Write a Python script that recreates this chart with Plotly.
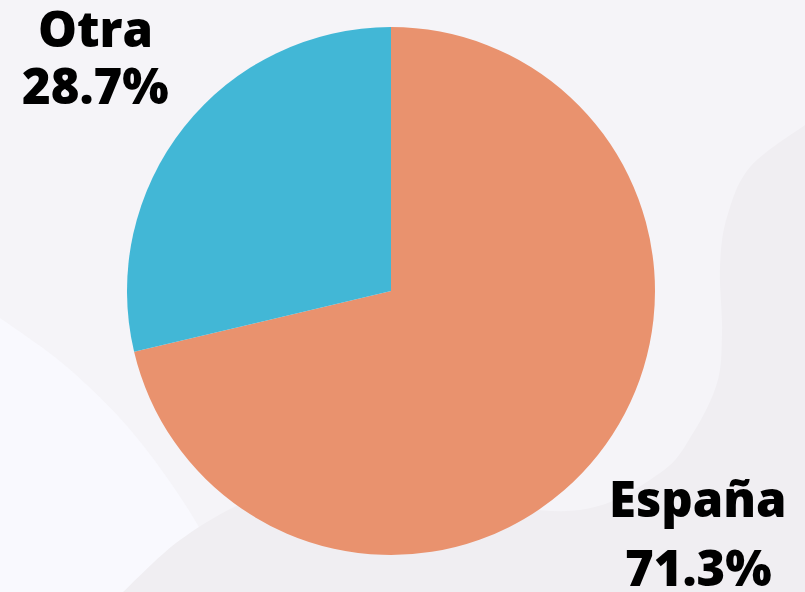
import plotly.graph_objects as go

# Data
categories = ["España", "Otra"]
values = [71.3, 28.7]
colors = ["#e9926e", "#42b7d6"]

W, H = 805, 592


def px(x, y):
    return x / W, 1 - y / H


def path(points, close=True):
    s = ""
    for i, (x, y) in enumerate(points):
        X, Y = px(x, y)
        s += ("M" if i == 0 else "L") + f"{X:.4f},{Y:.4f} "
    return s + ("Z" if close else "")


def smooth(pts, n=12):
    # Catmull-Rom interpolation for smooth decoration outlines
    out = []
    P = [pts[0]] + pts + [pts[-1]]
    for i in range(1, len(P) - 2):
        p0, p1, p2, p3 = P[i - 1], P[i], P[i + 1], P[i + 2]
        for k in range(n):
            t = k / n
            t2, t3 = t * t, t * t * t
            x = 0.5 * ((2 * p1[0]) + (-p0[0] + p2[0]) * t + (2 * p0[0] - 5 * p1[0] + 4 * p2[0] - p3[0]) * t2 + (-p0[0] + 3 * p1[0] - 3 * p2[0] + p3[0]) * t3)
            y = 0.5 * ((2 * p1[1]) + (-p0[1] + p2[1]) * t + (2 * p0[1] - 5 * p1[1] + 4 * p2[1] - p3[1]) * t2 + (-p0[1] + 3 * p1[1] - 3 * p2[1] + p3[1]) * t3)
            out.append((x, y))
    out.append(pts[-1])
    return out


light_edge = smooth([(0, 318), (67, 367), (133, 433), (193, 517), (230, 592)])
light_blob = path([(0, 592)] + light_edge + [(0, 592)])

dark_edge = smooth([(805, 125), (750, 167), (727, 217), (720, 267), (722, 333), (717, 383),
                    (693, 433), (660, 473), (580, 510), (450, 500), (320, 485), (250, 500),
                    (180, 540), (123, 592)])
dark_blob = path(dark_edge + [(805, 592)])

fig = go.Figure()
fig.add_trace(go.Pie(
    labels=categories,
    values=values,
    marker=dict(colors=colors, line=dict(width=0)),
    textinfo="none",
    hoverinfo="label+percent",
    sort=False,
    direction="clockwise",
    rotation=0,
    showlegend=False,
    domain=dict(x=[127 / W, 655 / W], y=[1 - 555 / H, 1 - 27 / H]),
))

font = dict(family="Open Sans", size=49, color="#000000", weight=800)
total = sum(values)
label_pos = {"Otra": (95, 28, 85), "España": (698, 498, 567)}
for cat, val in zip(categories, values):
    x, y1, y2 = label_pos[cat]
    X, Y1 = px(x, y1)
    _, Y2 = px(x, y2)
    fig.add_annotation(x=X, y=Y1, xref="paper", yref="paper", text=cat, showarrow=False,
                       xanchor="center", yanchor="middle", font=font)
    fig.add_annotation(x=X, y=Y2, xref="paper", yref="paper", text=f"{val / total * 100:.1f}%",
                       showarrow=False, xanchor="center", yanchor="middle", font=font)

fig.update_layout(
    width=W, height=H,
    margin=dict(l=0, r=0, t=0, b=0),
    paper_bgcolor="#f5f4f8",
    plot_bgcolor="#f5f4f8",
    shapes=[
        dict(type="path", path=light_blob, xref="paper", yref="paper", fillcolor="#f9f9fe",
             line=dict(width=0), layer="below"),
        dict(type="path", path=dark_blob, xref="paper", yref="paper", fillcolor="#f0eef2",
             line=dict(width=0), layer="below"),
    ],
)

fig.write_html("out.html", config={"displayModeBar": False},
               post_script="document.body.style.margin='0';document.body.style.overflow='hidden';")
